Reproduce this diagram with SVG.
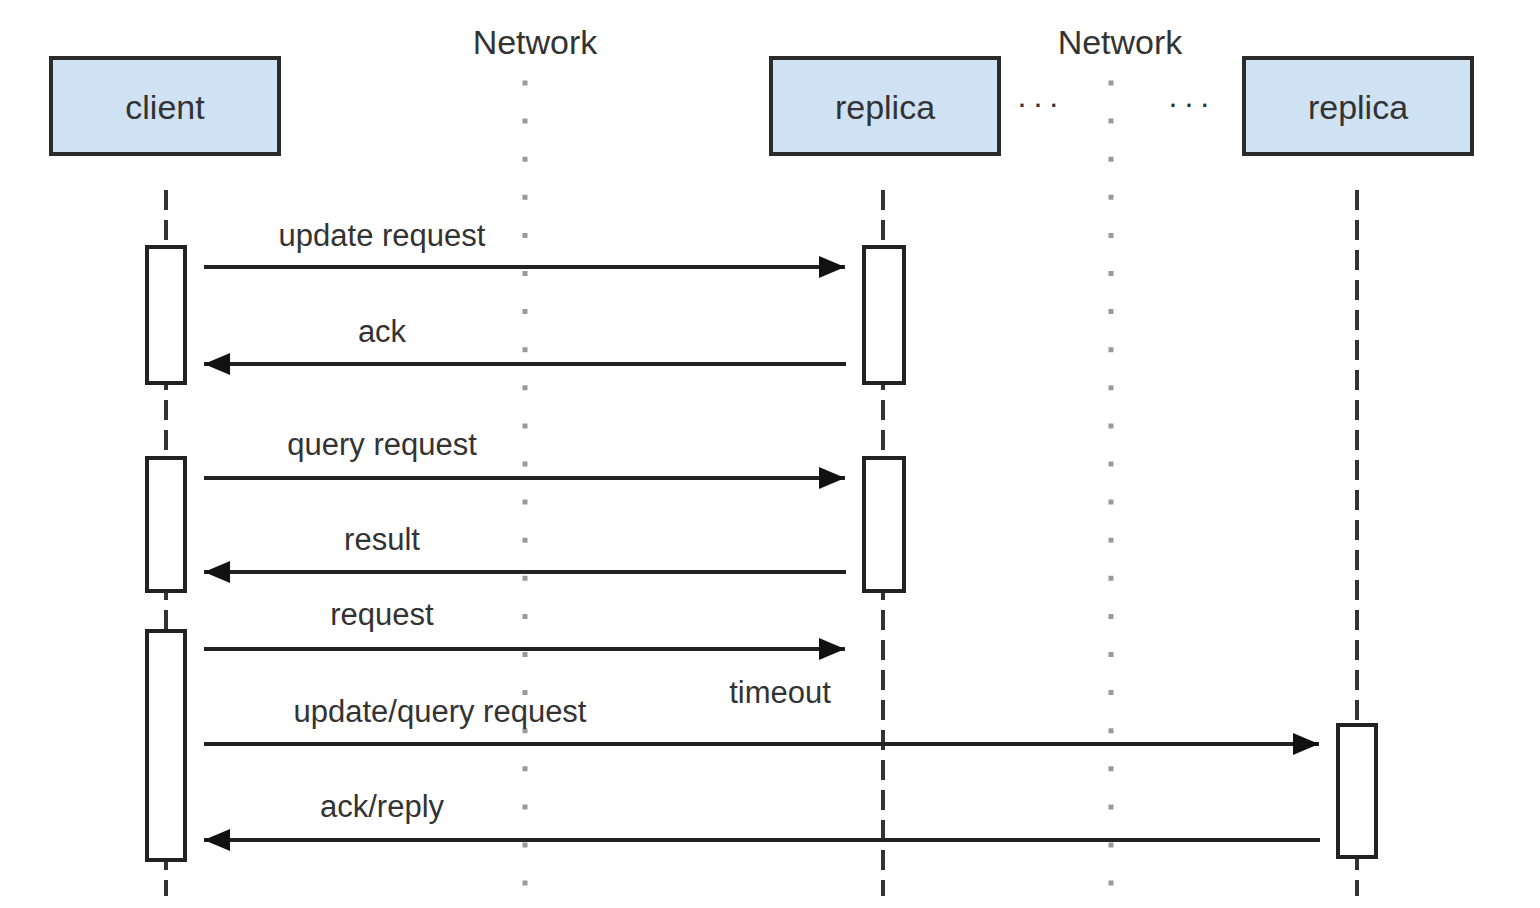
<svg xmlns="http://www.w3.org/2000/svg" width="1540" height="908" viewBox="0 0 1540 908">
<defs>
<style>
.node{fill:#cfe2f3;stroke:#2b2b2b;stroke-width:4}
.ntext{font-family:"Liberation Sans",Arial,sans-serif;font-size:34px;fill:#333;text-anchor:middle}
.lbl{font-family:"Liberation Sans",Arial,sans-serif;font-size:31px;fill:#333;text-anchor:middle}
.life{stroke:#333;stroke-width:4;stroke-dasharray:20 10;fill:none}
.net{stroke:#9a9a9a;stroke-width:5;stroke-dasharray:5 33.1;fill:none}
.act{fill:#fff;stroke:#222;stroke-width:4}
.msg{stroke:#222;stroke-width:4;fill:none;marker-end:url(#ah)}
</style>
<marker id="ah" viewBox="0 0 26 22" refX="26" refY="11" markerWidth="26" markerHeight="22" markerUnits="userSpaceOnUse" orient="auto">
<path d="M0,0 L26,11 L0,22 Z" fill="#111"/>
</marker>
</defs>
<rect width="1540" height="908" fill="#fff"/>

<g id="network-1">
<text class="ntext" x="535" y="54">Network</text>
<line class="net" x1="525" y1="80.5" x2="525" y2="890"/>
</g>
<g id="network-2">
<text class="ntext" x="1120" y="54">Network</text>
<line class="net" x1="1111" y1="80.5" x2="1111" y2="890"/>
</g>

<g id="lifelines">
<line class="life" x1="166" y1="190" x2="166" y2="896"/>
<line class="life" x1="883" y1="190" x2="883" y2="896"/>
<line class="life" x1="1357" y1="190" x2="1357" y2="896"/>
</g>

<g id="client">
<rect class="node" x="51" y="58" width="228" height="96"/>
<text class="ntext" x="165" y="119">client</text>
</g>
<g id="replica-1">
<rect class="node" x="771" y="58" width="228" height="96"/>
<text class="ntext" x="885" y="119">replica</text>
</g>
<g id="replica-2">
<rect class="node" x="1244" y="58" width="228" height="96"/>
<text class="ntext" x="1358" y="119">replica</text>
</g>

<g id="ellipsis">
<text x="1017.5" y="107" font-family="Liberation Sans,Arial,sans-serif" font-size="32" letter-spacing="7" fill="#333">...</text>
<text x="1168.5" y="107" font-family="Liberation Sans,Arial,sans-serif" font-size="32" letter-spacing="7" fill="#333">...</text>
</g>

<g id="activations">
<rect class="act" x="147" y="247" width="38" height="136"/>
<rect class="act" x="147" y="458" width="38" height="133"/>
<rect class="act" x="147" y="631" width="38" height="229"/>
<rect class="act" x="864" y="247" width="40" height="136"/>
<rect class="act" x="864" y="458" width="40" height="133"/>
<rect class="act" x="1338" y="725" width="38" height="132"/>
</g>

<g id="connectors">
<line class="msg" x1="204" y1="267" x2="845" y2="267"/>
<line class="msg" x1="846" y1="364" x2="204" y2="364"/>
<line class="msg" x1="204" y1="478" x2="845" y2="478"/>
<line class="msg" x1="846" y1="572" x2="204" y2="572"/>
<line class="msg" x1="204" y1="649" x2="845" y2="649"/>
<line class="msg" x1="204" y1="744" x2="1319" y2="744"/>
<line class="msg" x1="1320" y1="840" x2="204" y2="840"/>
</g>

<g id="labels">
<text class="lbl" x="382" y="246">update request</text>
<text class="lbl" x="382" y="342">ack</text>
<text class="lbl" x="382" y="455">query request</text>
<text class="lbl" x="382" y="550">result</text>
<text class="lbl" x="382" y="625">request</text>
<text class="lbl" x="780" y="703">timeout</text>
<text class="lbl" x="440" y="722">update/query request</text>
<text class="lbl" x="382" y="817">ack/reply</text>
</g>
</svg>
